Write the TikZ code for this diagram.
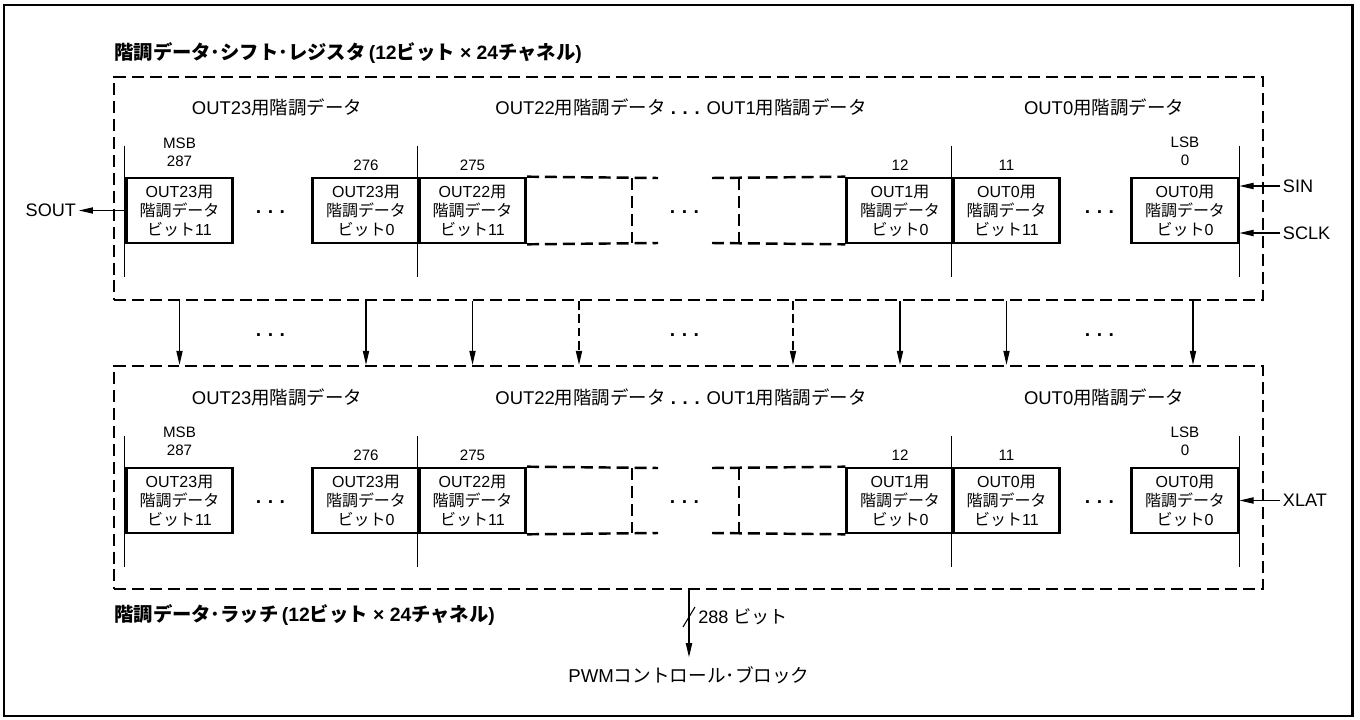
\documentclass[tikz,border=0pt]{standalone}
\usepackage{fontspec}
\setmainfont{Liberation Sans}
\newfontfamily\jp{Noto Sans CJK JP}
\usetikzlibrary{arrows.meta, positioning}

\begin{document}
\begin{tikzpicture}[
	x=0.02cm, y=-0.02cm,
	>={Stealth[length=2.8mm, width=1.25mm, inset=0pt]},
	every node/.style={inner sep=0pt},
	frame/.style={line width=1.7pt},
	register/.style={draw, dash pattern=on 6.8pt off 3.4pt, line width=1.4pt, minimum width=22.98cm, minimum height=4.46cm},
	bit box/.style={draw, line width=1.5pt, minimum width=2.13cm, minimum height=1.3cm, align=center, font=\fontsize{9.1}{10.8}\selectfont},
	open box/.style={dash pattern=on 6.8pt off 3.4pt, line width=1.4pt},
	bit rail/.style={line width=0.6pt},
	bit number/.style={align=center, font=\fontsize{8.6}{10.2}\selectfont},
	field label/.style={font=\fontsize{10.5}{12}\selectfont},
	signal/.style={inner sep=1.5pt, font=\fontsize{10.3}{12}\selectfont},
	data line/.style={->, line width=0.6pt},
	skipped line/.style={->, line width=0.6pt, dash pattern=on 5pt off 2.5pt},
	ellipsis/.style={font=\bfseries\fontsize{11}{12}\selectfont},
	caption/.style={anchor=west, font=\bfseries\fontsize{11}{13}\selectfont}
	]
	\useasboundingbox (0,0) rectangle (1360,720);
	\draw[frame] (4,5) rectangle (1352,716);

	% =====================================================
	% SHIFT REGISTER (ATAS)
	% =====================================================
	\node[caption] (capu) at (114,53) {{\jp 階調データ･シフト･レジスタ}\,(12{\jp ビット} × 24{\jp チャネル})};
	\node[register] (ureg) at (688.5,188.5) {};

	\node[field label] (fu23) at (277,107) {OUT23{\jp 用階調データ}};
	\node[field label] (fumid) at (681,107) {OUT22{\jp 用階調データ} {\bfseries . . .} OUT1{\jp 用階調データ}};
	\node[field label] (fu0) at (1104,107) {OUT0{\jp 用階調データ}};

	\node[bit box] (u1) at (179.5,210.5) {OUT23{\jp 用}\\{\jp 階調データ}\\{\jp ビット}11};
	\node[bit box] (u2) at (366,210.5) {OUT23{\jp 用}\\{\jp 階調データ}\\{\jp ビット}0};
	\node[bit box] (u3) at (472.5,210.5) {OUT22{\jp 用}\\{\jp 階調データ}\\{\jp ビット}11};
	\node[bit box] (u4) at (900,210.5) {OUT1{\jp 用}\\{\jp 階調データ}\\{\jp ビット}0};
	\node[bit box] (u5) at (1006.5,210.5) {OUT0{\jp 用}\\{\jp 階調データ}\\{\jp ビット}11};
	\node[bit box] (u6) at (1185,210.5) {OUT0{\jp 用}\\{\jp 階調データ}\\{\jp ビット}0};

	\draw[open box] (u3.north east) -- (658,178);
	\draw[open box] (u3.south east) -- (658,243);
	\draw[open box] (632,178) -- (632,243);
	\draw[open box] (712,178) -- (u4.north west);
	\draw[open box] (712,243) -- (u4.south west);
	\draw[open box] (739,178) -- (739,243);

	\draw[bit rail] ([yshift=0.62cm]u1.north west) -- ([yshift=-0.66cm]u1.south west);
	\draw[bit rail] ([yshift=0.62cm]u3.north west) -- ([yshift=-0.66cm]u3.south west);
	\draw[bit rail] ([yshift=0.62cm]u5.north west) -- ([yshift=-0.66cm]u5.south west);
	\draw[bit rail] ([yshift=0.62cm]u6.north east) -- ([yshift=-0.66cm]u6.south east);

	\node[bit number] (msbu) at (179.5,152) {MSB\\287};
	\node[bit number] (nu276) at (366,165) {276};
	\node[bit number] (nu275) at (472.5,165) {275};
	\node[bit number] (nu12) at (900,165) {12};
	\node[bit number] (nu11) at (1006.5,165) {11};
	\node[bit number] (lsbu) at (1185,151) {LSB\\0};

	\node[ellipsis] (du1) at (271,215) {· · ·};
	\node[ellipsis] (du2) at (685,215) {· · ·};
	\node[ellipsis] (du3) at (1100,215) {· · ·};

	\node[signal, anchor=east] (sout) at (79,210.5) {SOUT};
	\node[signal, anchor=west] (sin) at (1280,186) {SIN};
	\node[signal, anchor=west] (sclk) at (1280,233) {SCLK};
	\draw[data line] (u1.west) -- (sout.east);
	\draw[data line] (sin.west) -- (sin.west -| u6.east);
	\draw[data line] (sclk.west) -- (sclk.west -| u6.east);

	% =====================================================
	% TRANSFER KE LATCH
	% =====================================================
	\coordinate (skip1) at (579,0);
	\coordinate (skip2) at (793,0);
	\coordinate (tap) at (1193,0);

	\node[register] (lreg) at (688.5,477.5) {};

	\draw[data line] (u1 |- ureg.south) -- (u1 |- lreg.north);
	\draw[data line] (u2 |- ureg.south) -- (u2 |- lreg.north);
	\draw[data line] (u3 |- ureg.south) -- (u3 |- lreg.north);
	\draw[skipped line] (skip1 |- ureg.south) -- (skip1 |- lreg.north);
	\draw[skipped line] (skip2 |- ureg.south) -- (skip2 |- lreg.north);
	\draw[data line] (u4 |- ureg.south) -- (u4 |- lreg.north);
	\draw[data line] (u5 |- ureg.south) -- (u5 |- lreg.north);
	\draw[data line] (tap |- ureg.south) -- (tap |- lreg.north);

	\node[ellipsis] (dm1) at (271,338) {· · ·};
	\node[ellipsis] (dm2) at (685,338) {· · ·};
	\node[ellipsis] (dm3) at (1100,338) {· · ·};

	% =====================================================
	% LATCH (BAWAH)
	% =====================================================
	\node[field label] (fl23) at (277,397) {OUT23{\jp 用階調データ}};
	\node[field label] (flmid) at (681,397) {OUT22{\jp 用階調データ} {\bfseries . . .} OUT1{\jp 用階調データ}};
	\node[field label] (fl0) at (1104,397) {OUT0{\jp 用階調データ}};

	\node[bit box] (l1) at (179.5,500.5) {OUT23{\jp 用}\\{\jp 階調データ}\\{\jp ビット}11};
	\node[bit box] (l2) at (366,500.5) {OUT23{\jp 用}\\{\jp 階調データ}\\{\jp ビット}0};
	\node[bit box] (l3) at (472.5,500.5) {OUT22{\jp 用}\\{\jp 階調データ}\\{\jp ビット}11};
	\node[bit box] (l4) at (900,500.5) {OUT1{\jp 用}\\{\jp 階調データ}\\{\jp ビット}0};
	\node[bit box] (l5) at (1006.5,500.5) {OUT0{\jp 用}\\{\jp 階調データ}\\{\jp ビット}11};
	\node[bit box] (l6) at (1185,500.5) {OUT0{\jp 用}\\{\jp 階調データ}\\{\jp ビット}0};

	\draw[open box] (l3.north east) -- (658,468);
	\draw[open box] (l3.south east) -- (658,533);
	\draw[open box] (632,468) -- (632,533);
	\draw[open box] (712,468) -- (l4.north west);
	\draw[open box] (712,533) -- (l4.south west);
	\draw[open box] (739,468) -- (739,533);

	\draw[bit rail] ([yshift=0.62cm]l1.north west) -- ([yshift=-0.66cm]l1.south west);
	\draw[bit rail] ([yshift=0.62cm]l3.north west) -- ([yshift=-0.66cm]l3.south west);
	\draw[bit rail] ([yshift=0.62cm]l5.north west) -- ([yshift=-0.66cm]l5.south west);
	\draw[bit rail] ([yshift=0.62cm]l6.north east) -- ([yshift=-0.66cm]l6.south east);

	\node[bit number] (msbl) at (179.5,441) {MSB\\287};
	\node[bit number] (nl276) at (366,455) {276};
	\node[bit number] (nl275) at (472.5,455) {275};
	\node[bit number] (nl12) at (900,455) {12};
	\node[bit number] (nl11) at (1006.5,455) {11};
	\node[bit number] (lsbl) at (1185,441) {LSB\\0};

	\node[ellipsis] (dl1) at (271,505) {· · ·};
	\node[ellipsis] (dl2) at (685,505) {· · ·};
	\node[ellipsis] (dl3) at (1100,505) {· · ·};

	\node[signal, anchor=west] (xlat) at (1280,500.5) {XLAT};
	\draw[data line] (xlat.west) -- (xlat.west -| l6.east);

	\node[caption] (capl) at (114,615) {{\jp 階調データ･ラッチ}\,(12{\jp ビット} × 24{\jp チャネル})};

	% =====================================================
	% OUTPUT 288 BIT
	% =====================================================
	\node[signal, inner sep=5pt, font=\fontsize{10.6}{12}\selectfont] (pwm) at (689,675) {PWM{\jp コントロール･ブロック}};
	\draw[data line] (pwm |- lreg.south) -- (pwm.north);
	\draw[bit rail] (683,627) -- (695,607);
	\node[signal, anchor=west, inner sep=0pt] (width) at (698,617) {288 {\jp ビット}};

\end{tikzpicture}
\end{document}
